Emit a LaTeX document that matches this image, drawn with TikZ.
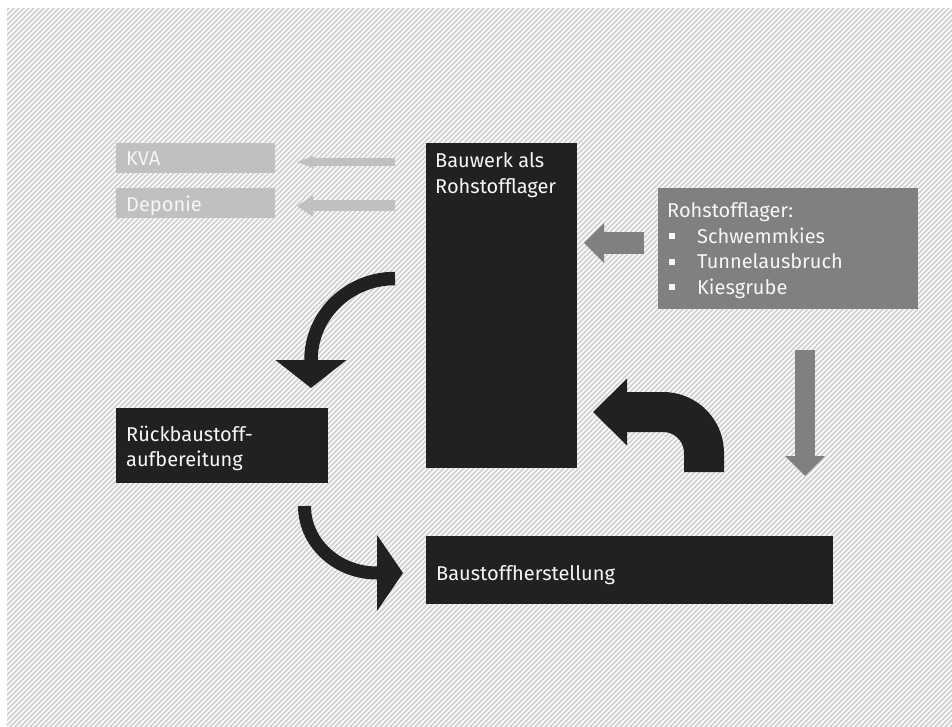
\documentclass[tikz,border=0pt]{standalone}
\usepackage{fontspec}
\setmainfont{Fira Sans}
\usetikzlibrary{arrows.meta,calc}
\definecolor{inkdark}{HTML}{212121}
\definecolor{inkmid}{HTML}{808080}
\definecolor{inklight}{HTML}{C0C0C0}
\definecolor{hatchgray}{HTML}{D4D4D4}
\definecolor{txtwhite}{HTML}{F6F6F6}
\newcommand{\sqbullet}{\hspace{2pt}\raisebox{4pt}{\rule{6pt}{6pt}}}
\begin{document}
\begin{tikzpicture}[x=1pt,y=-1pt,
  box/.style={rectangle, inner sep=0pt, anchor=north west},
  darkbox/.style={box, fill=inkdark},
  midbox/.style={box, fill=inkmid},
  lightbox/.style={box, fill=inklight},
  boxtext/.style={anchor=base west, inner sep=0pt, text=txtwhite,
    font=\fontsize{20}{25.5}\selectfont},
  blockarrow/.style={line cap=butt, line join=round}
]
\useasboundingbox (0,0) rectangle (952,727);

% hatched backdrop
\begin{scope}
  \clip (7,9) rectangle (952,727);
  \fill[white] (7,9) rectangle (952,727);
  \foreach \k in {-720,-715,...,960}
    \draw[hatchgray, line width=2pt] (\k,732) -- ++(730,-730);
\end{scope}

% boxes
\node[lightbox, minimum width=159pt, minimum height=30pt] (kva) at (116,143) {};
\node[lightbox, minimum width=159pt, minimum height=30pt] (deponie) at (116,188) {};
\node[darkbox, minimum width=151pt, minimum height=325pt] (bauwerk) at (426,143) {};
\node[midbox, minimum width=260pt, minimum height=121pt] (rohstoff) at (658,188) {};
\node[darkbox, minimum width=212pt, minimum height=75pt] (rueckbau) at (116,408) {};
\node[darkbox, minimum width=407pt, minimum height=68pt] (herstellung) at (426,536) {};

% box texts
\node[boxtext] (kvatext) at ($(kva.north west)+(10,23)$) {KVA};
\node[boxtext] (deponietext) at ($(deponie.north west)+(10,23.5)$) {Deponie};
\node[boxtext] (bauwerktext) at ($(bauwerk.north west)+(9,25)$)
  {\begin{tabular}[t]{@{}l@{}}Bauwerk als\\Rohstofflager\end{tabular}};
\node[boxtext] (rohstofftext) at ($(rohstoff.north west)+(9,30)$)
  {\begin{tabular}[t]{@{}p{30pt}@{}l@{}}
     \multicolumn{2}{@{}l@{}}{Rohstofflager:}\\
     \sqbullet & Schwemmkies\\
     \sqbullet & Tunnelausbruch\\
     \sqbullet & Kiesgrube
   \end{tabular}};
\node[boxtext] (rueckbautext) at ($(rueckbau.north west)+(10,33)$)
  {\begin{tabular}[t]{@{}l@{}}Rückbaustoff-\\aufbereitung\end{tabular}};
\node[boxtext] (herstellungtext) at ($(herstellung.north west)+(10,44)$)
  {Baustoffherstellung};

% arrow end points
\coordinate (kvaS) at (395,162);
\coordinate (kvaT) at (297,162);
\coordinate (depS) at (395,206);
\coordinate (depT) at (297,206);
\coordinate (rohS) at (644,243);
\coordinate (rohT) at (584,243);
\coordinate (downS) at (805,350);
\coordinate (downT) at (805,476);
\coordinate (leftS) at (395,278.5);
\coordinate (leftT) at (311,388);
\coordinate (lowS) at (304.5,506);
\coordinate (lowT) at (403,573);
\coordinate (backS) at (704,472);
\coordinate (backT) at (593,412);

% straight arrows
\draw[blockarrow, inklight, line width=8pt,
  -{Triangle[length=16pt,width=12pt,line width=0pt]}] (kvaS) -- (kvaT);
\draw[blockarrow, inklight, line width=11pt,
  -{Triangle[length=16pt,width=21pt,line width=0pt]}] (depS) -- (depT);
\draw[blockarrow, inkmid, line width=22pt,
  -{Triangle[length=20pt,width=40pt,line width=0pt]}] (rohS) -- (rohT);
\draw[blockarrow, inkmid, line width=20pt,
  -{Triangle[length=20pt,width=40pt,line width=0pt]}] (downS) -- (downT);

% curved arrows
\draw[blockarrow, inkdark, line width=13.5pt,
  -{Triangle[length=28pt,width=71pt,line width=0pt]}]
  (leftS) arc[start angle=270, end angle=180, x radius=84, y radius=81.5]
  -- (leftT);
\draw[blockarrow, inkdark, line width=13pt,
  -{Triangle[length=26pt,width=76pt,line width=0pt]}]
  (lowS) arc[start angle=180, end angle=90, x radius=72.5, y radius=67]
  -- (lowT);
\draw[blockarrow, inkdark, line width=40pt,
  -{Triangle[length=34pt,width=67pt,line width=0pt]}]
  (backS) -- ++(0,-19) arc[start angle=0, end angle=-90, radius=41]
  -- (backT);
\end{tikzpicture}
\end{document}
